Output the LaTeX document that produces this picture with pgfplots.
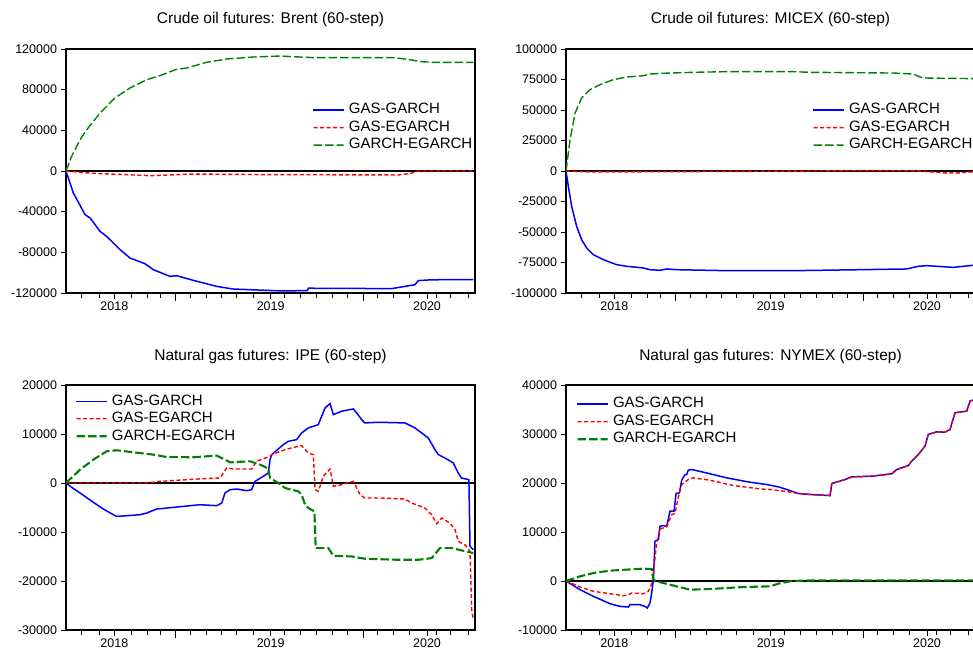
\documentclass[border=0pt]{standalone}
\usepackage{pgfplots}
\pgfplotsset{compat=1.18}
\usepackage{fontspec}
\setmainfont{Liberation Sans}
\definecolor{eblue}{RGB}{0,0,255}
\definecolor{ered}{RGB}{255,0,0}
\definecolor{egreen}{RGB}{0,128,0}
\pgfplotsset{
  panel/.style={
    scale only axis, width=409pt, height=244pt,
    xmin=2017.691, xmax=2020.307,
    axis line style={line width=1.1pt},
    tick pos=left, tick align=outside,
    xtick={2018,2019,2020}, xticklabels={2018,2019,2020},
    minor xtick={2017.791,2017.904,2018.111,2018.211,2018.297,2018.489,2018.591,2018.687,2018.783,2018.889,2019.085,2019.188,2019.294,2019.397,2019.490,2019.682,2019.784,2019.887,2020.062,2020.147,2020.264},
    extra x ticks={2018.388,2019.593}, extra x tick labels={},
    extra x tick style={major tick length=7.5pt},
    major tick length=5.5pt, minor tick length=5pt,
    every tick/.style={black, line width=0.9pt},
    scaled y ticks=false,
    /pgf/number format/assume math mode=true,
    /pgf/number format/fixed, /pgf/number format/precision=0,
    /pgf/number format/1000 sep={},
    ticklabel style={font=\fontsize{12.5}{14}\selectfont},
    title style={font=\fontsize{15.5}{18}\selectfont, at={(0.5,1)}, anchor=base, yshift=19pt},
    legend cell align=left,
    legend style={draw=none, fill=none, inner sep=0pt, row sep=4pt,
      font=\fontsize{15}{17}\selectfont,
      nodes={inner xsep=5pt, inner ysep=0pt, text height=10.5pt, text depth=3pt}},
  },
  gg/.style={draw=eblue, line width=1.5pt, solid,
    legend image code/.code={\path[line width=0.75pt, fill=eblue] (0pt,-0.375pt) rectangle (30pt,0.375pt);}},
  ge/.style={draw=ered, line width=1.4pt, dash pattern=on 4pt off 2.5pt,
    legend image code/.code={\fill[draw=none,fill=ered] (0pt,-0.7pt) rectangle (4pt,0.7pt) (6.5pt,-0.7pt) rectangle (10.5pt,0.7pt) (13pt,-0.7pt) rectangle (17pt,0.7pt) (19.5pt,-0.7pt) rectangle (23.5pt,0.7pt) (26pt,-0.7pt) rectangle (30pt,0.7pt);}},
  ce/.style={draw=egreen, line width=1.4pt, dash pattern=on 8.5pt off 3pt,
    legend image code/.code={\fill[draw=none,fill=egreen] (0pt,-0.7pt) rectangle (8.5pt,0.7pt) (11.5pt,-0.7pt) rectangle (20pt,0.7pt) (23pt,-0.7pt) rectangle (30pt,0.7pt);}},
  ceb/.style={draw=egreen, line width=2.1pt, dash pattern=on 8.5pt off 3pt,
    legend image code/.code={\fill[draw=none,fill=egreen] (0pt,-1.05pt) rectangle (8.5pt,1.05pt) (11.5pt,-1.05pt) rectangle (20pt,1.05pt) (23pt,-1.05pt) rectangle (30pt,1.05pt);}},
  zl/.style={draw=black, solid, forget plot},
}
\begin{document}
\begin{tikzpicture}
% ---------------- Panel 1: Brent
\begin{axis}[panel, at={(66pt,361pt)}, anchor=south west,
  ymin=-120000, ymax=120000, ytick={-120000,-80000,-40000,0,40000,80000,120000},
  title={Crude oil futures: Brent (60-step)},
  legend style={at={(axis description cs:0.604,0.778)}, anchor=north west}]
\addplot[zl, line width=1.2pt] coordinates {(2017.691,0)(2020.307,0)};
\addplot[gg] coordinates {(2017.691,0)(2017.695,-2000)(2017.738,-21600)(2017.813,-43000)(2017.845,-46200)(2017.909,-59400)(2017.951,-64300)(2018.037,-77400)(2018.100,-85600)(2018.196,-91200)(2018.250,-97100)(2018.356,-103600)(2018.399,-103000)(2018.506,-107600)(2018.655,-113500)(2018.761,-116100)(2018.975,-117400)(2019.081,-118000)(2019.235,-117600)(2019.241,-115300)(2019.774,-115700)(2019.859,-113500)(2019.923,-111800)(2019.945,-107800)(2020.030,-107000)(2020.296,-106800)};
\addlegendentry{GAS-GARCH}
\addplot[ge] coordinates {(2017.691,0)(2017.866,-2300)(2018.228,-4600)(2018.506,-3000)(2018.996,-3600)(2019.817,-3900)(2019.891,-2500)(2019.945,0)(2020.296,0)};
\addlegendentry{GAS-EGARCH}
\addplot[ce] coordinates {(2017.691,0)(2017.727,14400)(2017.781,30800)(2017.827,41300)(2017.909,57100)(2018.004,71800)(2018.100,81600)(2018.207,89800)(2018.292,93800)(2018.392,99700)(2018.463,101300)(2018.591,106900)(2018.719,110200)(2018.889,112100)(2019.060,113100)(2019.188,112100)(2019.273,111500)(2019.785,111500)(2019.891,109500)(2019.955,107600)(2020.040,106900)(2020.296,106900)};
\addlegendentry{GARCH-EGARCH}
\end{axis}
% ---------------- Panel 2: MICEX
\begin{axis}[panel, at={(566pt,361pt)}, anchor=south west,
  ymin=-100000, ymax=100000, ytick={-100000,-75000,-50000,-25000,0,25000,50000,75000,100000},
  title={Crude oil futures: MICEX (60-step)},
  legend style={at={(axis description cs:0.604,0.778)}, anchor=north west}]
\addplot[zl, line width=1.2pt] coordinates {(2017.691,0)(2020.307,0)};
\addplot[gg] coordinates {(2017.691,0)(2017.706,-12600)(2017.727,-29000)(2017.759,-45400)(2017.791,-56300)(2017.823,-63100)(2017.866,-68600)(2017.930,-72700)(2018.015,-76800)(2018.079,-78100)(2018.186,-79500)(2018.228,-80900)(2018.292,-81400)(2018.335,-80300)(2018.399,-80900)(2018.719,-81700)(2019.145,-81700)(2019.572,-80900)(2019.870,-80300)(2019.945,-78100)(2019.998,-77600)(2020.168,-79000)(2020.294,-77300)};
\addlegendentry{GAS-GARCH}
\addplot[ge] coordinates {(2017.691,0)(2017.850,-800)(2018.300,-600)(2018.800,-300)(2019.300,0)(2019.600,300)(2019.900,200)(2020.000,-500)(2020.100,-1500)(2020.200,-1600)(2020.294,-700)};
\addlegendentry{GAS-EGARCH}
\addplot[ce] coordinates {(2017.691,0)(2017.717,25700)(2017.749,47500)(2017.791,59800)(2017.845,66700)(2017.909,70800)(2017.994,74900)(2018.079,77000)(2018.186,78100)(2018.228,79500)(2018.292,80000)(2018.505,80900)(2018.719,81400)(2019.145,81400)(2019.252,80900)(2019.785,80300)(2019.913,79500)(2019.955,77000)(2019.998,76200)(2020.294,75700)};
\addlegendentry{GARCH-EGARCH}
\end{axis}
% ---------------- Panel 3: IPE
\begin{axis}[panel, height=245pt, at={(66pt,24pt)}, anchor=south west,
  ymin=-30000, ymax=20000, ytick={-30000,-20000,-10000,0,10000,20000},
  title={Natural gas futures: IPE (60-step)},
  legend style={at={(axis description cs:0.0244,0.962)}, anchor=north west}]
\addplot[zl, line width=2pt] coordinates {(2017.691,0)(2020.307,0)};
\addplot[gg] coordinates {(2017.691,0)(2017.727,-886)(2017.781,-2040)(2017.866,-3950)(2017.930,-5310)(2017.994,-6470)(2018.015,-6810)(2018.079,-6680)(2018.164,-6470)(2018.207,-6130)(2018.271,-5310)(2018.335,-5110)(2018.442,-4770)(2018.548,-4430)(2018.655,-4630)(2018.687,-4090)(2018.708,-2040)(2018.740,-1360)(2018.783,-1230)(2018.847,-1570)(2018.878,-1360)(2018.900,340)(2018.953,1360)(2018.985,2040)(2018.996,4770)(2019.007,5790)(2019.081,7830)(2019.113,8510)(2019.166,8850)(2019.198,10220)(2019.241,11240)(2019.305,11920)(2019.326,13620)(2019.348,15330)(2019.380,16210)(2019.401,13960)(2019.454,14650)(2019.529,15120)(2019.550,14300)(2019.582,12940)(2019.603,12260)(2019.689,12400)(2019.859,12260)(2019.923,11240)(2020.008,9200)(2020.051,6810)(2020.072,5790)(2020.115,5110)(2020.168,4090)(2020.200,2040)(2020.221,1020)(2020.268,680)(2020.275,-12940)(2020.296,-13620)};
\addlegendentry{GAS-GARCH}
\addplot[ge] coordinates {(2017.691,0)(2018.207,0)(2018.292,340)(2018.569,886)(2018.676,1020)(2018.719,3070)(2018.761,2860)(2018.878,2860)(2018.910,4430)(2018.996,5450)(2019.007,5790)(2019.092,6810)(2019.177,7490)(2019.198,7630)(2019.241,6130)(2019.273,5790)(2019.284,-1360)(2019.305,-1700)(2019.337,1360)(2019.380,2860)(2019.401,-680)(2019.454,-340)(2019.529,340)(2019.572,-2380)(2019.603,-3070)(2019.710,-3070)(2019.859,-3270)(2019.902,-4090)(2019.987,-5110)(2020.030,-6470)(2020.062,-8310)(2020.094,-7150)(2020.147,-8170)(2020.179,-9540)(2020.200,-11920)(2020.243,-12600)(2020.275,-13960)(2020.286,-25890)(2020.296,-27930)};
\addlegendentry{GAS-EGARCH}
\addplot[ceb] coordinates {(2017.691,0)(2017.781,2720)(2017.866,4770)(2017.951,6470)(2018.015,6680)(2018.122,6270)(2018.250,5790)(2018.335,5310)(2018.506,5250)(2018.655,5590)(2018.708,4770)(2018.740,4220)(2018.868,4430)(2018.932,3750)(2018.964,3270)(2018.985,2860)(2018.996,1020)(2019.049,0)(2019.092,-1020)(2019.177,-1700)(2019.198,-2380)(2019.220,-4430)(2019.241,-5110)(2019.280,-5790)(2019.288,-13280)(2019.369,-13280)(2019.401,-14850)(2019.518,-14990)(2019.603,-15460)(2019.817,-15670)(2019.945,-15670)(2020.030,-15330)(2020.083,-13280)(2020.158,-13280)(2020.222,-13760)(2020.296,-14310)};
\addlegendentry{GARCH-EGARCH}
\end{axis}
% ---------------- Panel 4: NYMEX
\begin{axis}[panel, height=245pt, at={(566pt,24pt)}, anchor=south west,
  ymin=-10000, ymax=40000, ytick={-10000,0,10000,20000,30000,40000},
  title={Natural gas futures: NYMEX (60-step)},
  legend style={at={(axis description cs:0.027,0.95)}, anchor=north west}]
\addplot[zl, line width=2pt] coordinates {(2017.691,0)(2020.307,0)};
\addplot[gg] coordinates {(2017.691,0)(2017.781,-1770)(2017.866,-3130)(2017.972,-4630)(2018.036,-5180)(2018.090,-5310)(2018.100,-4840)(2018.164,-4840)(2018.196,-5180)(2018.211,-5520)(2018.228,-4500)(2018.239,-2450)(2018.250,270)(2018.260,8110)(2018.282,8450)(2018.292,11170)(2018.314,11310)(2018.335,11170)(2018.356,14240)(2018.382,14240)(2018.395,17850)(2018.416,17980)(2018.431,20570)(2018.452,21730)(2018.463,21730)(2018.473,22620)(2018.495,22750)(2018.569,22210)(2018.719,21050)(2018.868,20160)(2018.975,19690)(2019.049,19210)(2019.092,18800)(2019.177,17850)(2019.262,17640)(2019.380,17440)(2019.391,19890)(2019.476,20710)(2019.518,21250)(2019.646,21390)(2019.774,21870)(2019.806,22750)(2019.881,23570)(2019.902,24460)(2019.945,25820)(2019.987,27520)(2020.008,29900)(2020.062,30450)(2020.115,30380)(2020.147,30930)(2020.179,34330)(2020.254,34670)(2020.275,36720)(2020.294,36920)};
\addlegendentry{GAS-GARCH}
\addplot[ge] coordinates {(2017.691,0)(2017.781,-1230)(2017.866,-2110)(2017.972,-2590)(2018.058,-3000)(2018.090,-2790)(2018.111,-2450)(2018.186,-2590)(2018.218,-2110)(2018.233,-1090)(2018.245,270)(2018.271,7770)(2018.292,10630)(2018.335,11040)(2018.367,13560)(2018.388,13760)(2018.410,17170)(2018.431,19690)(2018.473,20710)(2018.505,21050)(2018.612,20570)(2018.761,19480)(2018.932,18800)(2018.996,18660)(2019.092,18320)(2019.177,17850)(2019.262,17640)(2019.380,17440)(2019.391,19890)(2019.476,20710)(2019.518,21250)(2019.646,21390)(2019.774,21870)(2019.806,22750)(2019.881,23570)(2019.902,24460)(2019.945,25820)(2019.987,27520)(2020.008,29900)(2020.062,30450)(2020.115,30380)(2020.147,30930)(2020.179,34330)(2020.254,34670)(2020.275,36720)(2020.294,36920)};
\addlegendentry{GAS-EGARCH}
\addplot[ceb] coordinates {(2017.691,0)(2017.781,950)(2017.866,1630)(2017.972,2110)(2018.079,2320)(2018.186,2520)(2018.239,2450)(2018.250,270)(2018.271,-70)(2018.356,-750)(2018.442,-1430)(2018.484,-1770)(2018.612,-1630)(2018.825,-1230)(2018.996,-1090)(2019.049,-540)(2019.134,0)(2019.284,140)(2020.294,140)};
\addlegendentry{GARCH-EGARCH}
\end{axis}
\pgfresetboundingbox
\useasboundingbox (0pt,0pt) rectangle (973pt,654pt);
\end{tikzpicture}
\end{document}
